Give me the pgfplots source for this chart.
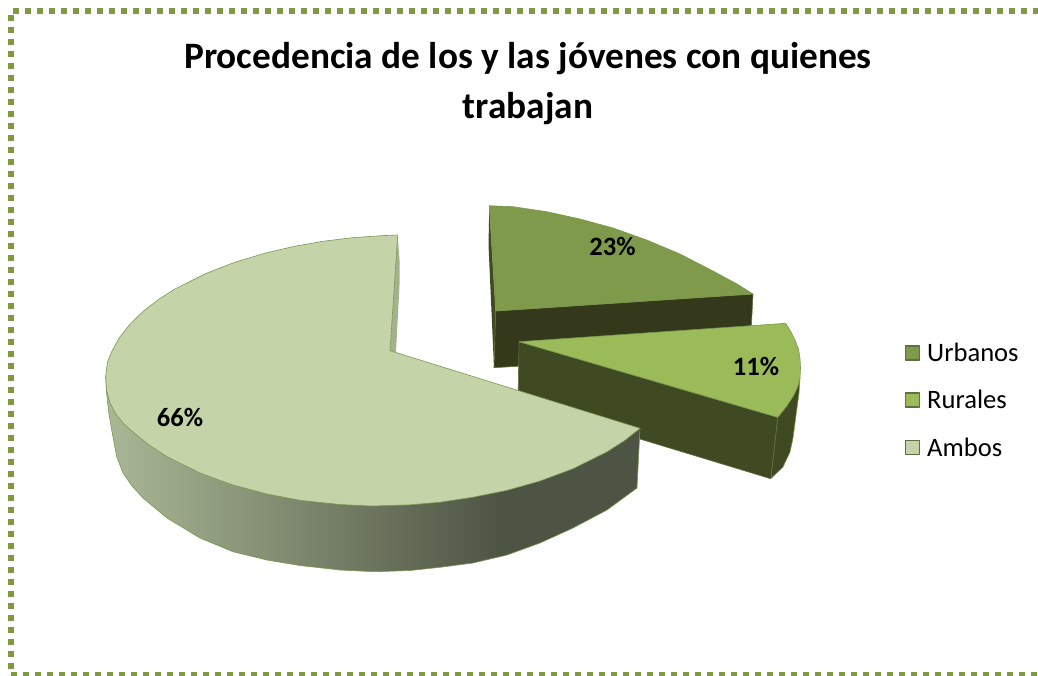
\documentclass[border=0pt]{standalone}
\usepackage{fontspec}
\setmainfont{Carlito}
\usepackage{pgfplots}
\pgfplotsset{compat=1.18}
\definecolor{urbano}{HTML}{7F9A4A}
\definecolor{rural}{HTML}{9BBB59}
\definecolor{ambos}{HTML}{C4D4A8}
\definecolor{edge}{HTML}{7C9650}
\definecolor{frameg}{HTML}{7F9A45}
\definecolor{frontu}{HTML}{33391A}
\definecolor{frontr}{HTML}{3F4A23}
\definecolor{sliver}{HTML}{A3B18D}
\definecolor{sideL}{HTML}{AAB896}
\definecolor{sideR}{HTML}{4E5443}
\pgfdeclarehorizontalshading{pieside}{100bp}{color(0bp)=(sideL); color(25bp)=(sideL); color(62bp)=(sideR); color(100bp)=(sideR)}
\begin{document}
\begin{tikzpicture}
\useasboundingbox (0,0) rectangle (1038pt,675pt);
\begin{axis}[
  scale only axis, width=1038pt, height=675pt,
  xmin=0, xmax=1038, ymin=0, ymax=675, y dir=reverse,
  hide axis,
  title={Procedencia de los y las jóvenes con quienes\\trabajan},
  title style={at={(axis description cs:0.5086,0.933)}, anchor=north, align=center,
    font=\bfseries\fontsize{37.3}{50}\selectfont},
  legend style={at={(axis description cs:0.8715,0.4925)}, anchor=north west, draw=none, fill=none,
    font=\fontsize{26.6}{30}\selectfont, row sep=27.5pt, inner sep=0pt,
    nodes={inner sep=0pt}},
  legend cell align=left,
  legend image code/.code={\path[#1, draw=edge!75!black, line width=1.5pt] (0.7pt,-7pt) rectangle (14.7pt,7pt); \path (22pt,0pt);},
  every axis plot/.append style={line join=round},
]
% frame
\addplot[forget plot, frameg, line width=6pt, dash pattern=on 6pt off 6pt] coordinates {(12.7,11) (1038,11)};
\addplot[forget plot, frameg, line width=6pt, dash pattern=on 6pt off 6pt] coordinates {(11,15) (11,675)};
\addplot[forget plot, frameg, line width=6pt, dash pattern=on 6pt off 6pt] coordinates {(11,675) (1038,675)};
% urbanos: sides
\addplot[forget plot, fill=frontr, draw=none] coordinates {(489.3,205.7) (488.5,245) (494,367.7) (495.7,311)} --cycle;
\addplot[forget plot, fill=frontu, draw=edge!60!frontu, line width=0.6pt] coordinates {(495.7,311) (753,294) (750,352) (494,367.7)} --cycle;
% rurales: sides
\addplot[forget plot, fill=frontr, draw=edge, line width=0.6pt] coordinates {
  (777.7,417.3) (786,407) (793.3,396) (797.5,387) (800,378) (799,393) (796.7,410) (793,438) (790,452) (783,467) (770.7,478.7)} --cycle;
\addplot[forget plot, fill=frontr, draw=edge!50!frontr, line width=0.6pt] coordinates {(519,341.7) (777.7,417.3) (770.7,478.7) (518,402)} --cycle;
% ambos: sides
\addplot[forget plot, fill=sliver, draw=none] coordinates {(397.7,235) (399.5,260) (399.5,285) (396,352) (390,350.7)} --cycle;
\addplot[forget plot, shading=pieside, draw=edge, line width=0.6pt] coordinates {
  (105.7,377) (106.5,392) (108.5,411) (111.7,430) (116.7,456.7) (123,473) (132,486) (143,498) (167,518) (200,538) (233,551.7) (267,560)
  (300,565.5) (340,570) (375,571.7) (410,570.5) (440,567.3) (473,563) (507,555) (540,543) (573,528) (607,510) (637,488) (640,428.3)} --cycle;
% top faces
\addplot[fill=urbano, draw=edge, line width=0.6pt] coordinates {
  (495.7,311) (489.3,205.7) (513,206.7) (546.7,211.7) (580,219) (613,228) (646.7,240) (680,254) (713,271) (737,284) (753,294)} --cycle;
\addlegendentry{Urbanos}
\addplot[fill=rural, draw=edge, line width=0.6pt] coordinates {
  (519,341.7) (785.7,323.3) (791,332) (795,340) (798.5,349) (800,358.3) (800.5,368) (800,378) (797.5,387) (793.3,396) (786,407) (777.7,417.3)} --cycle;
\addlegendentry{Rurales}
\addplot[fill=ambos, draw=edge, line width=0.6pt] coordinates {
  (390,350.7) (397.7,235) (381.3,235.7) (352.5,237.7) (323.6,241.2) (294.4,246.3) (265,253.2) (235.3,262.1) (205.2,273.8) (174.6,289.2) (159,299.1)
  (143.1,311.4) (129.9,324.3) (119.4,337.6) (111.8,351.4) (107.5,362) (105.7,376) (106.5,390) (110,403) (116,414.5) (124,424) (133,432) (149,445) (167,456.7) (200,473) (233,485)
  (267,494) (300,500.3) (340,504.5) (372,506) (410,504.8) (440,502.2) (473,497.2) (507,490.3) (540,481) (573,468.7) (607,451.8) (625,440.3) (640,428.3)} --cycle;
\addlegendentry{Ambos}
% data labels
\addplot[forget plot, draw=none, mark=none, nodes near coords, point meta=explicit symbolic,
  every node near coord/.style={anchor=center, font=\bfseries\fontsize{26.5}{30}\selectfont}]
  coordinates {(612.5,246) [23\%] (756,366) [11\%] (180,417) [66\%]};
\end{axis}
\end{tikzpicture}
\end{document}
